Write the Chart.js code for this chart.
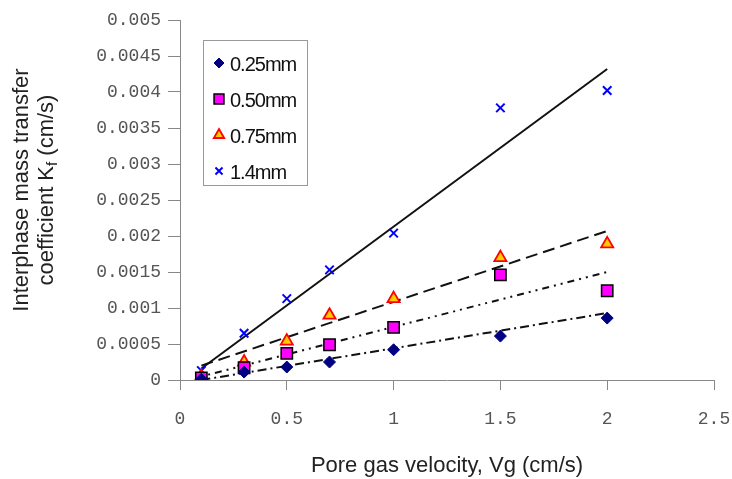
<!DOCTYPE html>
<html>
<head>
<meta charset="utf-8">
<script src="https://cdn.jsdelivr.net/npm/chart.js@4.4.0/dist/chart.umd.min.js"></script>
<style>
  body { margin: 0; background: #fff; }
  #wrap { width: 732px; height: 479px; }
</style>
</head>
<body>
<div id="wrap"><canvas id="chart"></canvas></div>
<script>
// measured points
const velocity = [0.1, 0.3, 0.5, 0.7, 1.0, 1.5, 2.0];
const kf025 = [0.00001, 0.00011, 0.00018, 0.00025, 0.00042, 0.00061, 0.00086];
const kf050 = [0.00003, 0.00017, 0.00037, 0.00049, 0.00073, 0.00146, 0.00124];
const kf075 = [0.00005, 0.00025, 0.00054, 0.0009, 0.00113, 0.0017, 0.00189];
const kf14 = [0.00013, 0.00065, 0.00113, 0.00153, 0.00204, 0.00378, 0.00402];

// trend lines (end points)
const fitX = [0.1, 2.0];
const fit025 = [0.0, 0.00093];
const fit050 = [0.00005, 0.0015];
const fit075 = [0.0002, 0.00207];
const fit14 = [0.00016, 0.00432];

const xTicks = [0, 0.5, 1, 1.5, 2, 2.5];

function pts(xs, ys) {
    return xs.map((x, i) => ({x: x, y: ys[i]}));
}

let series = [
    {label: '0.25mm', data: kf025, style: 'rectRot', fill: '#000080', border: '#000080', r: 6, bw: 1},
    {label: '0.50mm', data: kf050, style: 'rect', fill: '#ff00ff', border: '#000000', r: 8, bw: 1.5},
    {label: '0.75mm', data: kf075, style: 'triangle', fill: '#ffcc00', border: '#ff0000', r: 7, bw: 1.8},
    {label: '1.4mm', data: kf14, style: 'crossRot', fill: '#0000ff', border: '#0000ff', r: 6, bw: 2}
];

let fits = [
    {data: fit025, dash: [9, 4, 2, 4]},
    {data: fit050, dash: [2, 5, 2, 5, 7, 5]},
    {data: fit075, dash: [12, 6]},
    {data: fit14, dash: []}
];

let datasets = [];
series.forEach(s => {
    datasets.push({
        label: s.label,
        data: pts(velocity, s.data),
        pointStyle: s.style,
        pointRadius: s.r,
        pointBackgroundColor: s.fill,
        pointBorderColor: s.border,
        pointBorderWidth: s.bw,
        showLine: false,
        order: 1
    });
});
fits.forEach(f => {
    datasets.push({
        label: '',
        data: pts(fitX, f.data),
        showLine: true,
        borderColor: '#111',
        borderWidth: 2,
        borderDash: f.dash,
        pointRadius: 0,
        order: 2
    });
});

// legend box inside the plot
const boxLegend = {
    id: 'boxLegend',
    afterDraw(chart) {
        let ctx = chart.ctx;
        ctx.save();
        ctx.strokeStyle = '#999';
        ctx.lineWidth = 1;
        ctx.strokeRect(203.5, 40.5, 104, 145);
        ctx.font = '20px "Liberation Sans", Arial, sans-serif';
        ctx.letterSpacing = '-1px';
        ctx.textBaseline = 'middle';
        series.forEach((s, i) => {
            let y = 63 + i * 36;
            ctx.fillStyle = s.fill;
            ctx.strokeStyle = s.border;
            ctx.lineWidth = s.bw;
            Chart.helpers.drawPoint(ctx, {pointStyle: s.style, radius: s.r - 1, borderWidth: s.bw, rotation: 0}, 219, y);
            ctx.fillStyle = '#111';
            ctx.fillText(s.label, 230, y + 2);
        });
        ctx.restore();
    }
};

// y title with subscript f
const yTitle = {
    id: 'yTitle',
    afterDraw(chart) {
        let ctx = chart.ctx;
        let cy = 190;
        ctx.save();
        ctx.fillStyle = '#222';
        ctx.textBaseline = 'middle';
        ctx.translate(22, cy);
        ctx.rotate(-Math.PI / 2);
        let big = '22px "Liberation Sans", Arial, sans-serif';
        let small = '15px "Liberation Sans", Arial, sans-serif';
        ctx.font = big;
        ctx.textAlign = 'center';
        ctx.fillText('Interphase mass transfer', 0, 0);
        ctx.textAlign = 'left';
        let a = 'coefficient K', b = 'f', c = ' (cm/s)';
        let wa = ctx.measureText(a).width, wc = ctx.measureText(c).width;
        ctx.font = small;
        let wb = ctx.measureText(b).width;
        let x0 = -(wa + wb + wc) / 2;
        ctx.font = big;
        ctx.fillText(a, x0, 25);
        ctx.font = small;
        ctx.fillText(b, x0 + wa, 31);
        ctx.font = big;
        ctx.fillText(c, x0 + wa + wb, 25);
        ctx.restore();
    }
};

const tickFont = {family: '"Liberation Mono", monospace', size: 18};

new Chart(document.getElementById('chart'), {
    type: 'scatter',
    data: {datasets: datasets},
    options: {
        responsive: true,
        maintainAspectRatio: false,
        animation: false,
        layout: {padding: {top: 20, right: 18, left: 0, bottom: 0}},
        plugins: {
            legend: {display: false},
            tooltip: {enabled: false}
        },
        scales: {
            x: {
                type: 'linear',
                min: 0,
                max: 2.5,
                afterBuildTicks: (scale) => { scale.ticks = xTicks.map(v => ({value: v})); },
                afterFit: (scale) => {
                    scale.height = 99;
                    scale.paddingLeft = 0;
                    scale.paddingRight = 0;
                },
                border: {color: '#888', width: 1},
                grid: {display: true, drawOnChartArea: false, drawTicks: true, tickLength: 10, color: '#888'},
                ticks: {
                    color: '#555',
                    font: tickFont,
                    padding: 18,
                    maxRotation: 0,
                    callback: v => +v.toFixed(2) + ''
                },
                title: {
                    display: true,
                    text: 'Pore gas velocity, Vg (cm/s)',
                    color: '#222',
                    font: {family: '"Liberation Sans", Arial, sans-serif', size: 22},
                    padding: {top: 4, bottom: 0}
                }
            },
            y: {
                min: 0,
                max: 0.005,
                ticks: {
                    stepSize: 0.0005,
                    color: '#555',
                    font: tickFont,
                    padding: 7,
                    callback: v => +v.toFixed(4) + ''
                },
                afterFit: (scale) => {
                    scale.width = 180;
                    scale.paddingTop = 0;
                    scale.paddingBottom = 0;
                },
                border: {color: '#888', width: 1},
                grid: {display: true, drawOnChartArea: false, drawTicks: true, tickLength: 12, color: '#888'}
            }
        }
    },
    plugins: [boxLegend, yTitle]
});
</script>
</body>
</html>
